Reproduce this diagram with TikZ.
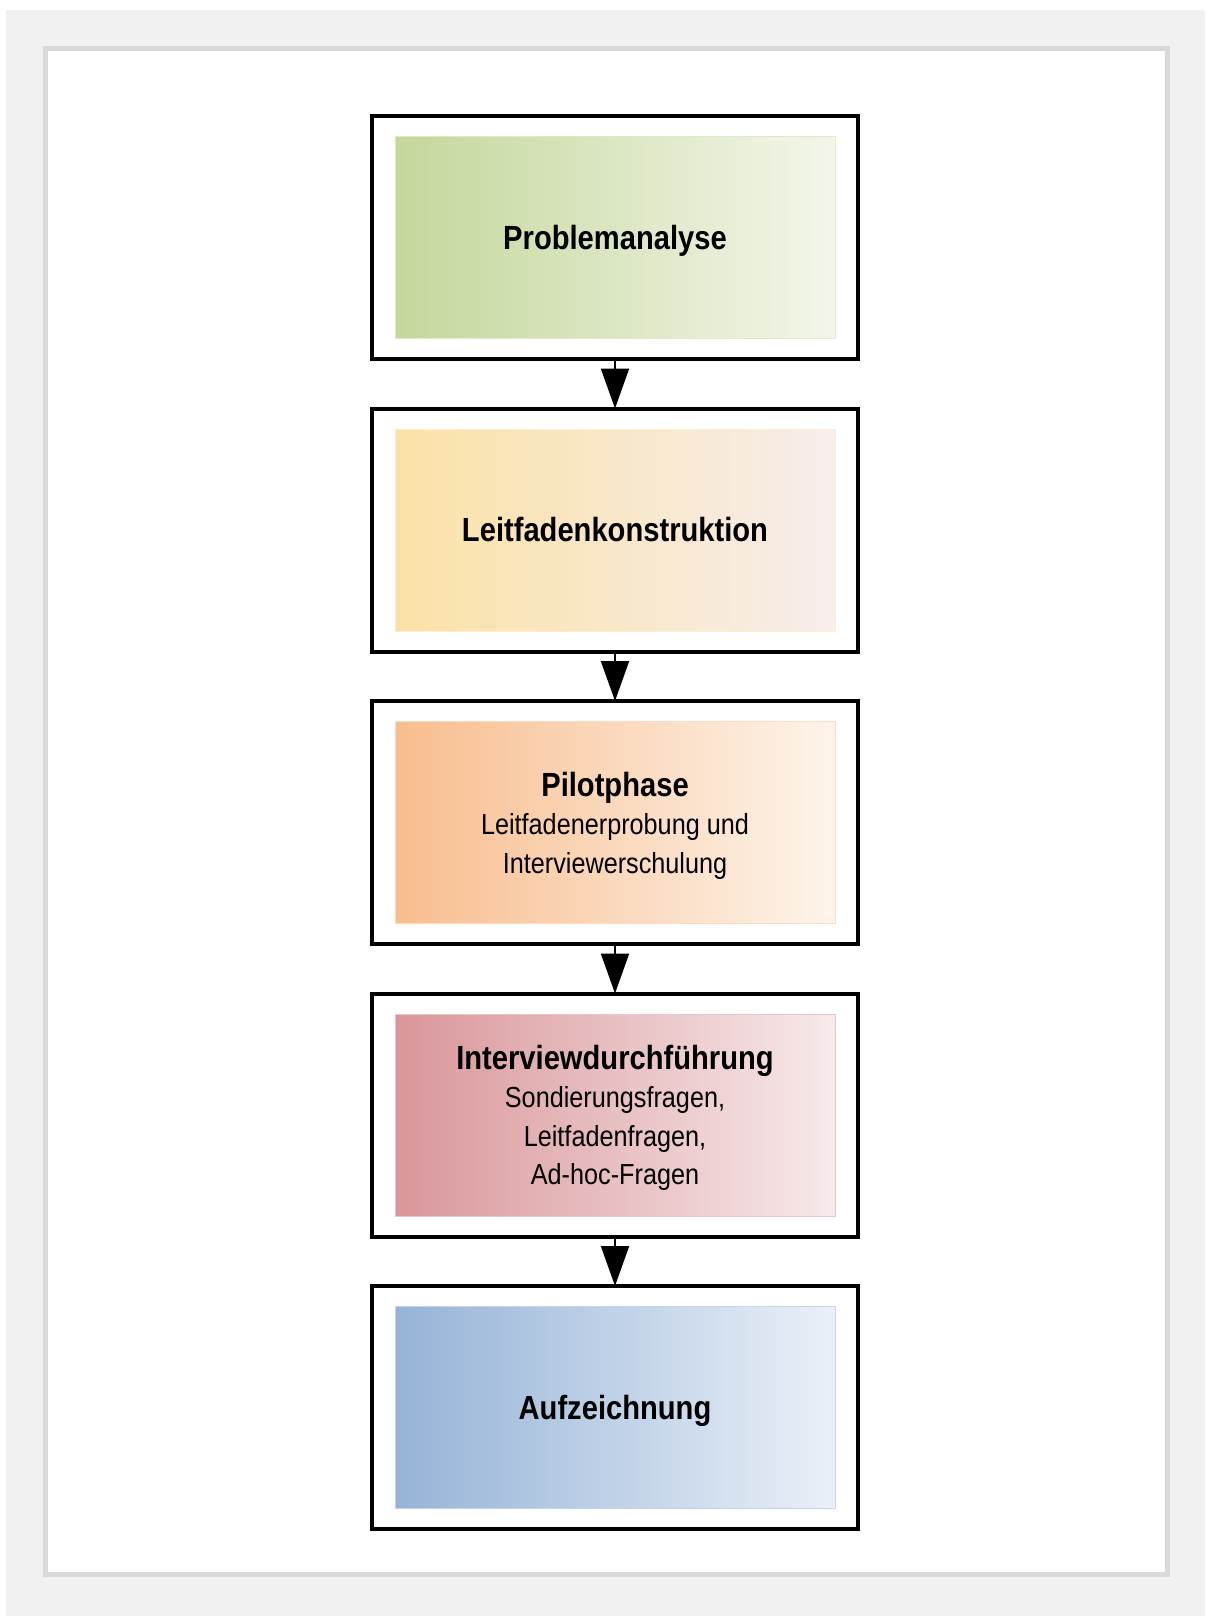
\documentclass[tikz,border=0pt]{standalone}
\usepackage{fontspec}
\newfontfamily\phasefont[FakeStretch=0.87]{Liberation Sans}
\usetikzlibrary{arrows.meta}
\usetikzlibrary{positioning}
\definecolor{bg_grey}{HTML}{F1F1F1}
\definecolor{frame_grey}{HTML}{D9D9D9}
\definecolor{green_l}{HTML}{C4D79B}\definecolor{green_r}{HTML}{F3F6EA}
\definecolor{yellow_l}{HTML}{FAE2A6}\definecolor{yellow_r}{HTML}{F7EDEC}
\definecolor{orange_l}{HTML}{F8BD8E}\definecolor{orange_r}{HTML}{FDF4EA}
\definecolor{red_l}{HTML}{D9969A}\definecolor{red_r}{HTML}{F7E9EA}
\definecolor{blue_l}{HTML}{95B3D7}\definecolor{blue_r}{HTML}{EAF0F8}
\tikzset{
	phase_box/.style = {draw=black, line width=2pt, inner sep=0pt, outer sep=0pt,
		minimum width=243pt, minimum height=121.5pt},% phase, schwarzer Rahmen
	phase_fill/.style 2 args = {draw=#1!55!white, line width=0.5pt, left color=#1,
		right color=#2, inner sep=0pt, align=center,
		minimum width=220pt, minimum height=101pt,
		font=\phasefont\fontsize{14.5}{19.25}\selectfont}% phase, Farbverlauf
}
\newcommand{\phasetitle}[1]{{\bfseries\fontsize{16.75}{19.25}\selectfont\rule[-3.5pt]{0pt}{18.7pt}#1}}

\begin{document}
\begin{tikzpicture}[x=0.5pt, y=-0.5pt, >={Triangle[width=14pt, length=20pt]}]
	\useasboundingbox (0,0) rectangle (1205,1616);
	\fill[bg_grey] (6,10) rectangle (1205,1616);
	\draw[frame_grey, fill=white, line width=2.5pt] (45.5,48.5) rectangle (1167.5,1574.5);

	\node [phase_box] (s1) at (615,237.5) {};
	\node [phase_box, below=24.75pt of s1] (s2) {};
	\node [phase_box, below=24.75pt of s2] (s3) {};
	\node [phase_box, below=24.75pt of s3] (s4) {};
	\node [phase_box, below=24.75pt of s4] (s5) {};

	\node [phase_fill={green_l}{green_r}] (f1) at (s1) {\phasetitle{Problemanalyse}};
	\node [phase_fill={yellow_l}{yellow_r}] (f2) at (s2) {\phasetitle{Leitfadenkonstruktion}};
	\node [phase_fill={orange_l}{orange_r}] (f3) at (s3)
		{\phasetitle{Pilotphase}\\Leitfadenerprobung und\\Interviewerschulung};
	\node [phase_fill={red_l}{red_r}] (f4) at (s4)
		{\phasetitle{Interviewdurchführung}\\Sondierungsfragen,\\Leitfadenfragen,\\Ad-hoc-Fragen};
	\node [phase_fill={blue_l}{blue_r}] (f5) at (s5) {\phasetitle{Aufzeichnung}};

	\draw [->, line width=1pt] (s1) -- (s2);
	\draw [->, line width=1pt] (s2) -- (s3);
	\draw [->, line width=1pt] (s3) -- (s4);
	\draw [->, line width=1pt] (s4) -- (s5);
\end{tikzpicture}
\end{document}
